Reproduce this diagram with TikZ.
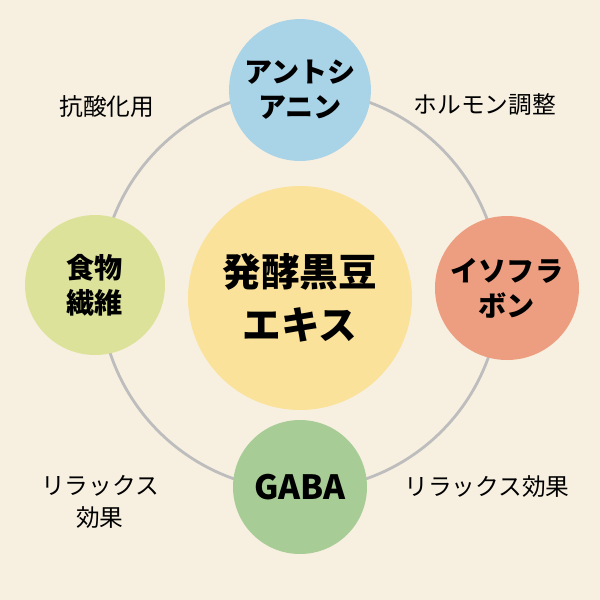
\documentclass[tikz,border=0pt]{standalone}
\usepackage{fontspec}
\setmainfont{Noto Sans CJK JP}
\usetikzlibrary{positioning}
\definecolor{bgcream}{HTML}{F7F0E1}
\definecolor{ringgray}{HTML}{BDBDBD}
\definecolor{blueball}{HTML}{A9D3E6}
\definecolor{salmonball}{HTML}{EE9E80}
\definecolor{greenball}{HTML}{A8CC95}
\definecolor{limeball}{HTML}{DDE29A}
\definecolor{yellowball}{HTML}{FBE29A}

\begin{document}
\begin{tikzpicture}[x=0.02cm,y=-0.02cm]
\fill[bgcream] (0,0) rectangle (600,600);
\useasboundingbox (0,0) rectangle (600,600);
\draw[ringgray, line width=1.6pt] (300,290) circle (200);

\begin{scope}[every node/.style={circle,align=center,font=\bfseries\fontsize{16}{20}\selectfont}]
    \node[fill=yellowball, minimum size=224*0.02cm, font=\bfseries\fontsize{22}{30}\selectfont] (Extract) at (300,298) {発酵黒豆\\エキス};
    \node[fill=blueball, minimum size=140*0.02cm] (Antho) at (300,90) {アントシ\\アニン};
    \node[fill=salmonball, minimum size=144*0.02cm] (Iso) at (507,288) {イソフラ\\ボン};
    \node[fill=greenball, minimum size=134*0.02cm, font=\bfseries\fontsize{19}{22}\selectfont] (Gaba) at (300,487) {GABA};
    \node[fill=limeball, minimum size=140*0.02cm] (Fiber) at (95,285) {食物\\繊維};
\end{scope}

\begin{scope}[every node/.style={align=center,font=\fontsize{13.5}{18}\selectfont}]
    \node (Antiox) at (107,107) {抗酸化用};
    \node (Hormone) at (485,105) {ホルモン調整};
    \node (RelaxL) at (100,502) {リラックス\\効果};
    \node (RelaxR) at (487,487) {リラックス効果};
\end{scope}
\end{tikzpicture}
\end{document}
